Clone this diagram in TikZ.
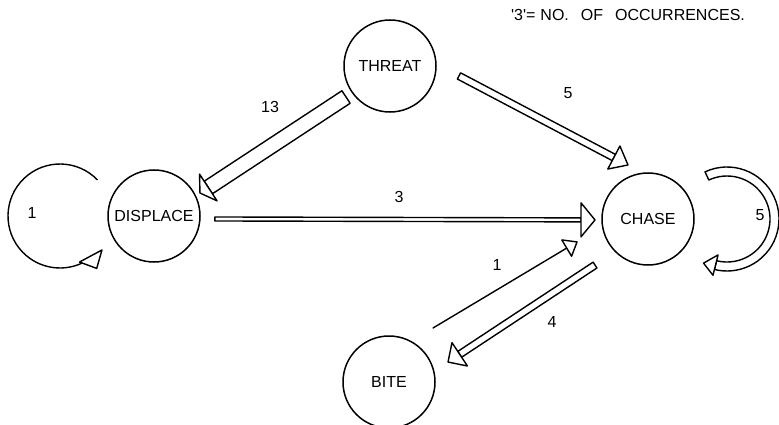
\documentclass[tikz,border=0pt]{standalone}
\usepackage{fontspec}
\setmainfont{Liberation Sans}
\usetikzlibrary{calc}

% hollow arrow: #1 tail, #2 tip, #3 shaft half width, #4 head length, #5 head half width
\newcommand{\hollowarrow}[5]{%
  \coordinate (ha-s) at #1;
  \coordinate (ha-t) at #2;
  \coordinate (ha-b) at ($(ha-t)!#4!(ha-s)$);
  \draw[arrowline] ($(ha-s)!#3!90:(ha-t)$) -- ($(ha-b)!#3!90:(ha-t)$)
    -- ($(ha-b)!#3!-90:(ha-t)$) -- ($(ha-s)!#3!-90:(ha-t)$) -- cycle;
  \filldraw[arrowline, fill=white] (ha-t) -- ($(ha-b)!#5!90:(ha-t)$)
    -- ($(ha-b)!#5!-90:(ha-t)$) -- cycle;
}

\begin{document}
\begin{tikzpicture}[x=1pt, y=1pt,
  state/.style={circle, draw, line width=1.5pt, minimum size=92pt, inner sep=0pt,
    font=\fontsize{16}{19}\selectfont},
  count/.style={font=\fontsize{16}{19}\selectfont},
  arrowline/.style={line width=1.4pt, line join=round}]

\useasboundingbox (0,0) rectangle (779,424);

\node[state] (threat) at (390, 358) {THREAT};
\node[state] (displace) at (154, 208) {DISPLACE};
\node[state] (chase) at (648, 205) {CHASE};
\node[state] (bite) at (389, 42) {BITE};

\node[count] (legend) at (628, 409)
  {\textquotesingle3\textquotesingle=\hspace{5pt}NO.\hspace{12pt}OF\hspace{12pt}OCCURRENCES.};

% transitions
\hollowarrow{($(threat)+(215.2:53.8)$)}{($(displace)+(26.6:51.4)$)}{7.5pt}{10pt}{16pt}
\node[count] (c13) at (270, 317) {13};

\hollowarrow{($(threat)+(-8.2:69.7)$)}{($(chase)+(110.3:57.6)$)}{3.5pt}{16pt}{13pt}
\node[count] (c5) at (568, 331) {5};

\hollowarrow{($(displace)+(-2.8:61)$)}{($(chase)+(181:53)$)}{2pt}{14pt}{17pt}
\node[count] (c3) at (399, 227) {3};

\hollowarrow{($(bite)+(50.8:69.7)$)}{($(chase)+(197.9:74.6)$)}{0pt}{12pt}{9.5pt}
\node[count] (c1) at (497, 159) {1};

\hollowarrow{($(chase)+(221:70.2)$)}{($(bite)+(18.7:62.3)$)}{3.5pt}{14pt}{14pt}
\node[count] (c4) at (552, 102) {4};

% self loops
\coordinate (loopd) at ($(displace)+(-94,0)$);
\draw[arrowline] ($(loopd)+(44:52)$) arc[start angle=44, end angle=300, radius=52];
\filldraw[arrowline, fill=white] ($(loopd)+(-39:54)$) -- ($(loopd)+(-67:50)$)
  -- ($(loopd)+(-55:64)$) -- cycle;
\node[count] (cloopd) at (32, 211) {1};

\coordinate (loopc) at ($(chase)+(79,0)$);
\draw[arrowline, fill=white] ($(loopc)+(115:52)$) arc[start angle=115, end angle=-104, radius=52]
  -- ($(loopc)+(-104:43)$) arc[start angle=-104, end angle=115, radius=43] -- cycle;
\filldraw[arrowline, fill=white] ($(loopc)+(-118:50)$) -- ($(loopc)+(-104:37)$)
  -- ($(loopc)+(-104:58)$) -- cycle;
\node[count] (cloopc) at (760, 209) {5};

\end{tikzpicture}
\end{document}
